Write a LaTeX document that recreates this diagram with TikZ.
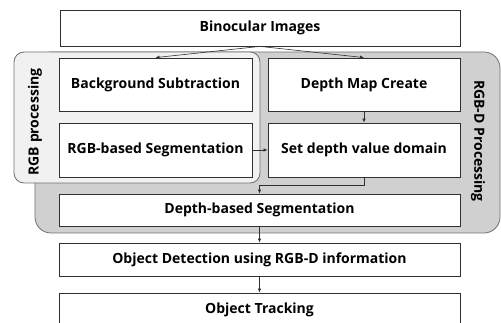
\documentclass[tikz,border=0pt]{standalone}
\usepackage{fontspec}
\setmainfont{Open Sans}
\usetikzlibrary{arrows.meta}
\definecolor{rgbfill}{HTML}{F1F1F1}
\definecolor{depthfill}{HTML}{D0D0D0}
\definecolor{groupline}{HTML}{707070}
\definecolor{boxline}{HTML}{303030}
\begin{document}
\begin{tikzpicture}[x=1pt,y=-1pt,
    box/.style={draw=boxline,line width=.8pt,fill=white,inner sep=0pt,font=\fontsize{14}{16}\selectfont\bfseries},
    arr/.style={draw=boxline,line width=.6pt,-{Latex[length=4pt,width=3.5pt]}},
    grouplabel/.style={font=\fontsize{14}{16}\selectfont\bfseries,inner sep=0pt}]

    \useasboundingbox (0,0) rectangle (501,323);

    \filldraw[fill=depthfill,draw=groupline,line width=.8pt,rounded corners=16pt] (35,52) rectangle (500,233);
    \filldraw[fill=rgbfill,draw=groupline,line width=.8pt,rounded corners=10pt] (14,52) rectangle (260,183);

    \node[grouplabel,rotate=90] (rgblabel) at (35,122) {RGB processing};
    \node[grouplabel,rotate=-90] (depthlabel) at (478,141) {RGB-D Processing};

    \node[box,minimum width=400pt,minimum height=36pt] (bin) at (260,28) {Binocular Images};
    \node[box,minimum width=193pt,minimum height=53pt] (bg) at (155.5,84.5) {Background Subtraction};
    \node[box,minimum width=193pt,minimum height=54pt] (rseg) at (155.5,150) {RGB-based Segmentation};
    \node[box,minimum width=192pt,minimum height=53pt] (dm) at (364,84.5) {Depth Map Create};
    \node[box,minimum width=192pt,minimum height=54pt] (sd) at (364,150) {Set depth value domain};
    \node[box,minimum width=401pt,minimum height=32pt] (dseg) at (259.5,210) {Depth-based Segmentation};
    \node[box,minimum width=401pt,minimum height=33pt] (od) at (259.5,259.5) {Object Detection using RGB-D information};
    \node[box,minimum width=401pt,minimum height=33pt] (ot) at (259.5,309.5) {Object Tracking};

    \coordinate (join) at (259.5,185);

    \draw[arr] (bin.south) -- (bg.north);
    \draw[arr] (bin.south) -- (dm.north);
    \draw[arr] (dm) -- (sd);
    \draw[arr] (rseg) -- (sd);
    \draw[arr] (sd.south) |- (join) -- (dseg.north);
    \draw[arr] (dseg) -- (od);
    \draw[arr] (od) -- (ot);
\end{tikzpicture}
\end{document}
